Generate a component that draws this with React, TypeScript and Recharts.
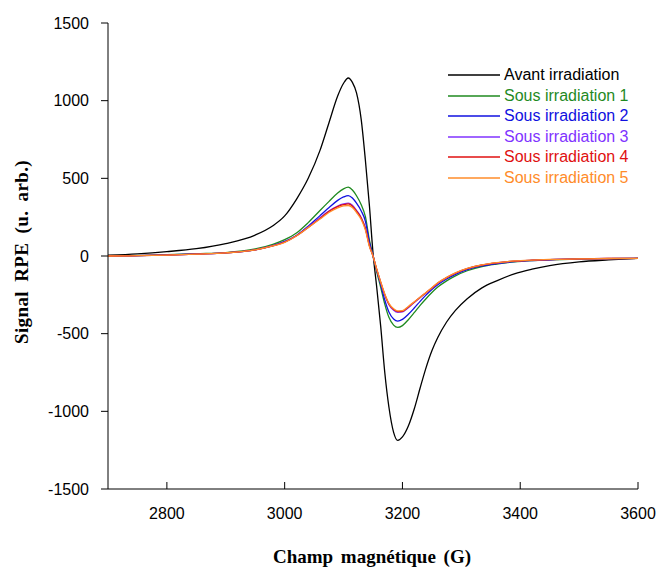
import React from "react";
import { LineChart, Line, XAxis, YAxis } from "recharts";

const fieldG = [2700, 2750, 2800, 2850, 2900, 2950, 2980, 3000, 3020, 3040, 3060, 3075, 3090, 3100, 3108, 3115, 3122, 3130, 3137, 3144, 3150, 3156, 3163, 3170, 3177, 3185, 3192, 3200, 3210, 3220, 3230, 3240, 3250, 3260, 3275, 3290, 3310, 3335, 3360, 3390, 3420, 3450, 3500, 3550, 3600];

const avant = [5, 14, 28, 47, 80, 135, 195, 258, 365, 500, 680, 855, 1030, 1112, 1146, 1118, 1050, 878, 620, 320, 20, -190, -450, -750, -972, -1135, -1187, -1165, -1095, -985, -850, -720, -610, -525, -425, -350, -275, -205, -160, -115, -85, -62, -38, -25, -15];
const sous1 = [0, 3, 8, 15, 22, 45, 75, 105, 148, 215, 293, 350, 405, 432, 443, 425, 388, 330, 255, 100, 3, -97, -200, -310, -395, -445, -460, -448, -410, -365, -318, -275, -235, -200, -160, -128, -95, -68, -52, -38, -30, -25, -20, -17, -15];
const sous2 = [0, 3, 7, 13, 20, 40, 67, 94, 132, 192, 260, 310, 358, 380, 389, 373, 340, 290, 225, 88, 2, -88, -182, -283, -360, -405, -419, -408, -375, -335, -292, -252, -216, -185, -148, -118, -88, -64, -49, -36, -29, -24, -19, -17, -15];
const sous3 = [0, 2, 6, 12, 20, 40, 66, 90, 130, 186, 246, 290, 322, 335, 340, 326, 294, 248, 182, 68, 0, -83, -170, -252, -313, -350, -363, -360, -333, -300, -268, -238, -208, -176, -140, -111, -82, -59, -45, -33, -27, -23, -19, -16, -15];
const sous4 = [0, 2, 6, 12, 20, 40, 65, 89, 130, 184, 242, 286, 318, 330, 335, 321, 289, 243, 177, 64, 0, -82, -168, -248, -309, -345, -358, -356, -329, -297, -266, -236, -206, -174, -139, -110, -81, -58, -44, -33, -27, -23, -19, -16, -15];
const sous5 = [0, 2, 6, 12, 20, 40, 65, 88, 129, 183, 238, 280, 310, 322, 325, 312, 280, 235, 168, 60, 0, -80, -166, -245, -305, -340, -353, -352, -325, -295, -265, -235, -204, -172, -138, -109, -80, -57, -43, -32, -26, -22, -19, -16, -15];

const xTicks = [2800, 3000, 3200, 3400, 3600];
const yTicks = [-1500, -1000, -500, 0, 500, 1000, 1500];

const seriesNames = ["Avant irradiation", "Sous irradiation 1", "Sous irradiation 2", "Sous irradiation 3", "Sous irradiation 4", "Sous irradiation 5"];
const seriesValues = [avant, sous1, sous2, sous3, sous4, sous5];
const seriesColors = ["#000000", "#1f8a1f", "#1010e0", "#8033ff", "#e01010", "#ff8c2a"];

const data = fieldG.map((g, i) => {
  const row: Record<string, number> = { g };
  seriesNames.forEach((n, k) => {
    row[n] = seriesValues[k][i];
  });
  return row;
});

const tickFont = "'Liberation Sans', Arial, sans-serif";

const XTick = (props: any) => {
  const { x, y, payload } = props;
  return (
    <g>
      <line x1={x} x2={x} y1={y} y2={y - 7} stroke="#000" strokeWidth={1} />
      <text x={x} y={y + 30} textAnchor="middle" fontFamily={tickFont} fontSize={16} fill="#000">
        {payload.value}
      </text>
    </g>
  );
};

export default function App() {
  return (
    <div style={{ position: "absolute", left: 0, top: 0, width: 660, height: 568, background: "#fff" }}>
      <LineChart
        width={660}
        height={568}
        data={data}
        margin={{ top: 23, right: 22, bottom: 49, left: 48 }}
      >
        <XAxis
          dataKey="g"
          type="number"
          domain={[2700, 3600]}
          ticks={xTicks}
          interval={0}
          allowDataOverflow
          tickSize={0}
          tickMargin={0}
          tickLine={false}
          tick={<XTick />}
          height={30}
          axisLine={{ stroke: "#000", strokeWidth: 1 }}
        />
        <YAxis
          type="number"
          domain={[-1500, 1500]}
          ticks={yTicks}
          interval={0}
          allowDataOverflow
          width={60}
          tickSize={7}
          tickMargin={12}
          tickLine={{ stroke: "#000", strokeWidth: 1 }}
          axisLine={{ stroke: "#000", strokeWidth: 1 }}
          tick={{ fontFamily: tickFont, fontSize: 16, fill: "#000" }}
        />
        {seriesNames.map((n, k) => (
          <Line
            key={n}
            type="monotone"
            dataKey={n}
            stroke={seriesColors[k]}
            strokeWidth={1.3}
            dot={false}
            isAnimationActive={false}
          />
        ))}
      </LineChart>
      <div style={{ position: "absolute", left: 448, top: 65, fontFamily: tickFont, fontSize: 16 }}>
        {seriesNames.map((n, k) => (
          <div key={n} style={{ height: 20.5, display: "flex", alignItems: "center", whiteSpace: "nowrap" }}>
            <svg width={54} height={20} style={{ display: "block" }}>
              <line x1={0} x2={52} y1={10} y2={10} stroke={seriesColors[k]} strokeWidth={1.3} />
            </svg>
            <span style={{ color: seriesColors[k], marginLeft: 2, lineHeight: "20px" }}>{n}</span>
          </div>
        ))}
      </div>
      <div
        style={{
          position: "absolute",
          left: 372,
          top: 557,
          transform: "translate(-50%, -50%)",
          fontFamily: "'Liberation Serif', 'Times New Roman', serif",
          fontWeight: "bold",
          fontSize: 19,
          whiteSpace: "nowrap",
          wordSpacing: 3,
        }}
      >
        Champ magnétique (G)
      </div>
      <div
        style={{
          position: "absolute",
          left: 22,
          top: 252,
          transform: "translate(-50%, -50%) rotate(-90deg)",
          fontFamily: "'Liberation Serif', 'Times New Roman', serif",
          fontWeight: "bold",
          fontSize: 19,
          whiteSpace: "nowrap",
          wordSpacing: 4,
          letterSpacing: 0.4,
        }}
      >
        Signal RPE (u. arb.)
      </div>
    </div>
  );
}
